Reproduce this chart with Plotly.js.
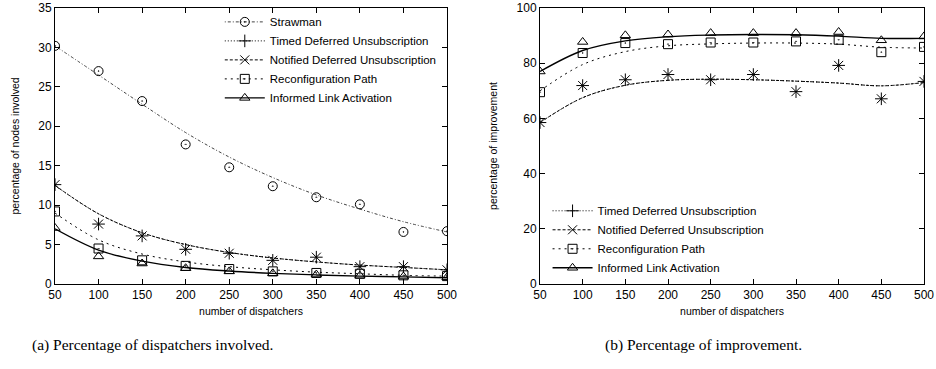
<!DOCTYPE html>
<html><head><meta charset="utf-8">
<script src="https://cdn.plot.ly/plotly-3.0.1.min.js"></script>
<style>html,body{margin:0;padding:0;background:#fff}#chart{width:936px;height:369px}</style>
</head><body><div id="chart"></div>
<script>
// ---- data ----
const dispatchers = [50, 100, 150, 200, 250, 300, 350, 400, 450, 500];
const xTicks = [50, 100, 150, 200, 250, 300, 350, 400, 450, 500];
const seriesNames = ["Strawman", "Timed Deferred Unsubscription", "Notified Deferred Unsubscription", "Reconfiguration Path", "Informed Link Activation"];

// (a) percentage of nodes involved
const strawmanPts = [30.2, 27.0, 23.2, 17.7, 14.8, 12.4, 11.0, 10.1, 6.6, 6.7];
const strawmanFit = [30.2, 26.5, 22.8, 19.2, 16.1, 13.5, 11.3, 9.5, 7.9, 6.6];
const timedPtsA = [12.6, 7.6, 6.1, 4.4, 3.9, 3.0, 3.4, 2.2, 2.2, 1.8];
const timedFitA = [12.5, 8.9, 6.5, 5.0, 4.0, 3.3, 2.8, 2.4, 2.1, 1.8];
const notifiedPtsA = [12.6, 7.6, 6.1, 4.4, 3.9, 3.0, 3.4, 2.2, 2.2, 1.8];
const notifiedFitA = [12.5, 8.9, 6.5, 5.0, 4.0, 3.3, 2.8, 2.4, 2.1, 1.8];
const reconfPtsA = [9.2, 4.5, 3.0, 2.3, 1.9, 1.6, 1.4, 1.3, 1.1, 1.0];
const reconfFitA = [9.0, 5.6, 3.8, 2.8, 2.2, 1.8, 1.5, 1.3, 1.1, 1.0];
const informedPtsA = [7.1, 3.5, 2.6, 2.0, 1.6, 1.35, 1.2, 1.05, 0.95, 0.85];
const informedFitA = [7.0, 4.3, 2.9, 2.1, 1.65, 1.35, 1.15, 1.0, 0.9, 0.8];

// (b) percentage of improvement
const timedPtsB = [58.5, 71.9, 74.0, 75.9, 74.0, 75.9, 69.7, 79.2, 67.1, 73.4];
const timedFitB = [58.5, 67.5, 72.0, 73.8, 74.2, 74.0, 73.5, 72.8, 71.8, 73.0];
const notifiedPtsB = [58.5, 71.9, 74.0, 75.9, 74.0, 75.9, 69.7, 79.2, 67.1, 73.4];
const notifiedFitB = [58.5, 67.5, 72.0, 73.8, 74.2, 74.0, 73.5, 72.8, 71.8, 73.0];
const reconfPtsB = [69.5, 83.7, 87.3, 86.9, 87.5, 87.5, 87.9, 88.5, 84.0, 85.9];
const reconfFitB = [70.0, 79.5, 84.2, 86.3, 87.0, 87.3, 87.3, 86.9, 85.8, 85.5];
const informedPtsB = [77.0, 87.7, 90.1, 90.4, 90.9, 90.9, 90.9, 91.3, 88.3, 89.7];
const informedFitB = [77.0, 84.6, 88.1, 89.6, 90.2, 90.4, 90.3, 89.8, 89.0, 89.0];

const captionA = "(a) Percentage of dispatchers involved.";
const captionB = "(b) Percentage of improvement.";

// ---- styles ----
const styles = {
  "Strawman": {symbol: "circle-open-dot", dash: "1px,2px,3px,2px", color: "#444", width: 1},
  "Timed Deferred Unsubscription": {symbol: "cross-thin-open", dash: "1px,2px", color: "#000", width: 1},
  "Notified Deferred Unsubscription": {symbol: "x-thin-open", dash: "3px,2px", color: "#000", width: 1},
  "Reconfiguration Path": {symbol: "square-open-dot", dash: "2px,4px", color: "#000", width: 1},
  "Informed Link Activation": {symbol: "triangle-up-open", dash: "solid", color: "#000", width: 1.4}
};

// isolated points (nulls between) so no connecting line is drawn, but legend shows line+marker
function gapped(arr) { const out = []; arr.forEach((v, i) => { if (i) out.push(null); out.push(v); }); return out; }

function series(name, pts, fit, xa, ya, legend, showleg) {
  const s = styles[name];
  return [
    {x: dispatchers, y: fit, xaxis: xa, yaxis: ya, mode: "lines", line: {shape: "spline", smoothing: 1, color: s.color, width: s.width, dash: s.dash}, showlegend: false, hoverinfo: "skip"},
    {x: gapped(dispatchers), y: gapped(pts), xaxis: xa, yaxis: ya, name: name, legend: legend, showlegend: showleg, mode: "lines+markers", connectgaps: false,
     line: {color: s.color, width: s.width, dash: s.dash},
     marker: {symbol: s.symbol, size: 9, color: "#000", line: {color: "#000", width: 1}}}
  ];
}

const traces = [].concat(
  series(seriesNames[0], strawmanPts, strawmanFit, "x", "y", "legend", true),
  series(seriesNames[1], timedPtsA, timedFitA, "x", "y", "legend", true),
  series(seriesNames[2], notifiedPtsA, notifiedFitA, "x", "y", "legend", true),
  series(seriesNames[3], reconfPtsA, reconfFitA, "x", "y", "legend", true),
  series(seriesNames[4], informedPtsA, informedFitA, "x", "y", "legend", true),
  series(seriesNames[1], timedPtsB, timedFitB, "x2", "y2", "legend2", true),
  series(seriesNames[2], notifiedPtsB, notifiedFitB, "x2", "y2", "legend2", true),
  series(seriesNames[3], reconfPtsB, reconfFitB, "x2", "y2", "legend2", true),
  series(seriesNames[4], informedPtsB, informedFitB, "x2", "y2", "legend2", true)
);

const W = 936, H = 369;
const tickFont = {family: "Liberation Sans, Arial, sans-serif", size: 12, color: "#000"};
const titleFont = {family: "Liberation Sans, Arial, sans-serif", size: 10.5, color: "#000"};
function axis(extra) {
  return Object.assign({
    showline: true, mirror: "ticks", linecolor: "#000", linewidth: 1,
    ticks: "inside", ticklen: 5, tickcolor: "#000", showgrid: false, zeroline: false,
    tickfont: tickFont, automargin: false, fixedrange: true
  }, extra);
}
const yDom = [1 - 284 / H, 1 - 8 / H];
const legFont = {family: "Liberation Sans, Arial, sans-serif", size: 11.5, color: "#000"};

const layout = {
  width: W, height: H,
  margin: {l: 0, r: 0, t: 0, b: 0},
  paper_bgcolor: "#fff", plot_bgcolor: "#fff",
  xaxis: axis({domain: [55 / W, 447 / W], range: [50, 500], tickvals: xTicks, anchor: "y",
    title: {text: "number of dispatchers", font: titleFont, standoff: 6}}),
  yaxis: axis({domain: yDom, range: [0, 35], dtick: 5, tick0: 0, anchor: "x",
    title: {text: "percentage of nodes involved", font: titleFont, standoff: 16}}),
  xaxis2: axis({domain: [540 / W, 924 / W], range: [50, 500], tickvals: xTicks, anchor: "y2",
    title: {text: "number of dispatchers", font: titleFont, standoff: 6}}),
  yaxis2: axis({domain: yDom, range: [0, 100], dtick: 20, tick0: 0, anchor: "x2",
    title: {text: "percentage of improvement", font: titleFont, standoff: 16}}),
  legend: {x: 0.472, xanchor: "right", y: 0.98, yanchor: "top", bgcolor: "rgba(0,0,0,0)",
    font: legFont, itemwidth: 40, tracegroupgap: 0},
  legend2: {x: 0.585, xanchor: "left", y: 0.235, yanchor: "bottom", bgcolor: "rgba(0,0,0,0)",
    font: legFont, itemwidth: 40, tracegroupgap: 0},
  annotations: [
    {text: captionA, xref: "paper", yref: "paper", x: 152 / W, y: 1 - 345 / H, xanchor: "center", yanchor: "middle", showarrow: false,
     font: {family: "Liberation Serif, DejaVu Serif, serif", size: 15.5, color: "#000"}},
    {text: captionB, xref: "paper", yref: "paper", x: 703 / W, y: 1 - 345 / H, xanchor: "center", yanchor: "middle", showarrow: false,
     font: {family: "Liberation Serif, DejaVu Serif, serif", size: 15.5, color: "#000"}}
  ]
};

Plotly.newPlot("chart", traces, layout, {staticPlot: true, displayModeBar: false});
</script>
</body></html>
